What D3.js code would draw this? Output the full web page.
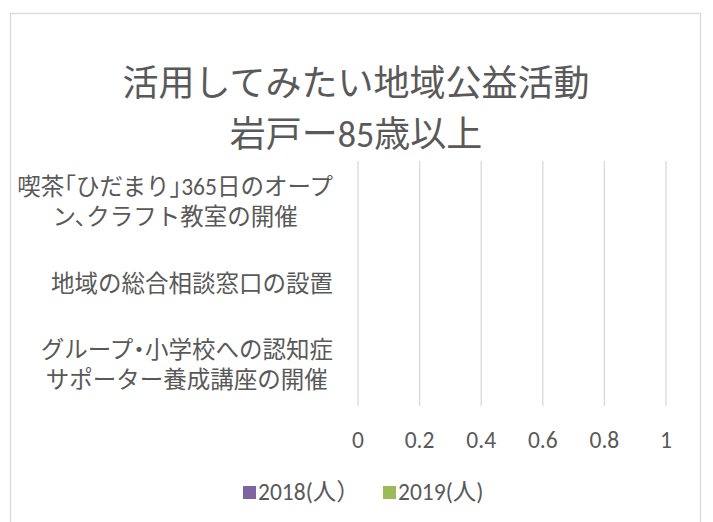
<!DOCTYPE html>
<html>
<head>
<meta charset="utf-8">
<script src="https://cdn.jsdelivr.net/npm/d3@7"></script>
<style>
  body { margin: 0; background: #fff; }
  text { font-family: Calibri, Carlito, "Noto Sans CJK JP", sans-serif; fill: #595959; }
  .cat { font-feature-settings: "halt"; }
</style>
</head>
<body>
<script>
// chart data
var titleLines = ["活用してみたい地域公益活動", "岩戸ー85歳以上"];
var categories = [
  "喫茶「ひだまり」365日のオープ\nン、クラフト教室の開催",
  "地域の総合相談窓口の設置",
  "グループ・小学校への認知症\nサポーター養成講座の開催"
];
var seriesNames = ["2018(人）", "2019(人)"];
var seriesColors = ["#8064a2", "#9bbb59"];
var values2018 = [0, 0, 0];
var values2019 = [0, 0, 0];
var xTicks = [0, 0.2, 0.4, 0.6, 0.8, 1];

var width = 713, height = 522;
var margin = {left: 358, right: 47, top: 161, bottom: 116};
var fs = 23.5;

var svg = d3.select("body").append("svg")
    .attr("width", width)
    .attr("height", height);

// chart frame
svg.append("rect")
    .attr("x", 10.5).attr("y", 13.5)
    .attr("width", 690).attr("height", 530)
    .attr("fill", "#fff")
    .attr("stroke", "#d9d9d9")
    .attr("stroke-width", 1.3);

// title
svg.append("g").selectAll("text")
    .data(titleLines)
    .enter().append("text")
    .attr("x", 356)
    .attr("y", function(d, i){ return 84 + i * 51; })
    .attr("text-anchor", "middle")
    .attr("dominant-baseline", "central")
    .style("font-size", "36px")
    .text(function(d){ return d; });

var x = d3.scaleLinear()
    .domain([0, 1])
    .range([margin.left, width - margin.right]);

var y = d3.scaleBand()
    .domain(categories)
    .range([margin.top, height - margin.bottom])
    .paddingInner(0.33)
    .paddingOuter(0.165);

// gridlines
svg.append("g").selectAll("line")
    .data(xTicks)
    .enter().append("line")
    .attr("x1", function(d){ return x(d); })
    .attr("x2", function(d){ return x(d); })
    .attr("y1", margin.top)
    .attr("y2", height - margin.bottom)
    .attr("stroke", "#d9d9d9")
    .attr("stroke-width", 1.3);

// tick labels
svg.append("g").selectAll("text")
    .data(xTicks)
    .enter().append("text")
    .attr("x", function(d){ return x(d); })
    .attr("y", 440)
    .attr("text-anchor", "middle")
    .attr("dominant-baseline", "central")
    .style("font-size", fs + "px")
    .text(function(d){ return d3.format("~g")(d); });

// category labels: block right aligned, lines centred inside the block
var labelRight = 333;
svg.append("g").selectAll("text")
    .data(categories)
    .enter().append("text")
    .attr("class", "cat")
    .attr("text-anchor", "middle")
    .style("font-size", fs + "px")
    .each(function(d){
        var lines = d.split("\n");
        var cy = y(d) + y.bandwidth() / 2;
        var lh = 30;
        var t = d3.select(this);
        var spans = t.selectAll("tspan")
            .data(lines)
            .enter().append("tspan")
            .attr("y", function(l, i){ return cy + (i - (lines.length - 1) / 2) * lh; })
            .attr("dominant-baseline", "central")
            .text(function(l){ return l; });
        var maxW = 0;
        spans.each(function(){ maxW = Math.max(maxW, this.getComputedTextLength()); });
        spans.attr("x", labelRight - maxW / 2);
    });

// bars (all zero)
var sub = d3.scaleBand()
    .domain(seriesNames)
    .range([0, y.bandwidth()]);

[values2018, values2019].forEach(function(vals, si){
    svg.append("g").selectAll("rect")
        .data(vals)
        .enter().append("rect")
        .attr("x", x(0))
        .attr("y", function(d, i){ return y(categories[i]) + sub(seriesNames[si]); })
        .attr("width", function(d){ return x(d) - x(0); })
        .attr("height", sub.bandwidth())
        .attr("fill", seriesColors[si]);
});

// legend
var legendX = [243, 383];
var lg = svg.append("g").selectAll("g")
    .data(seriesNames)
    .enter().append("g")
    .attr("transform", function(d, i){ return "translate(" + legendX[i] + ",492)"; });
lg.append("rect")
    .attr("x", 0).attr("y", -6)
    .attr("width", 13).attr("height", 13)
    .attr("fill", function(d, i){ return seriesColors[i]; });
lg.append("text")
    .attr("x", 15)
    .attr("dominant-baseline", "central")
    .style("font-size", fs + "px")
    .text(function(d){ return d; });
</script>
</body>
</html>
